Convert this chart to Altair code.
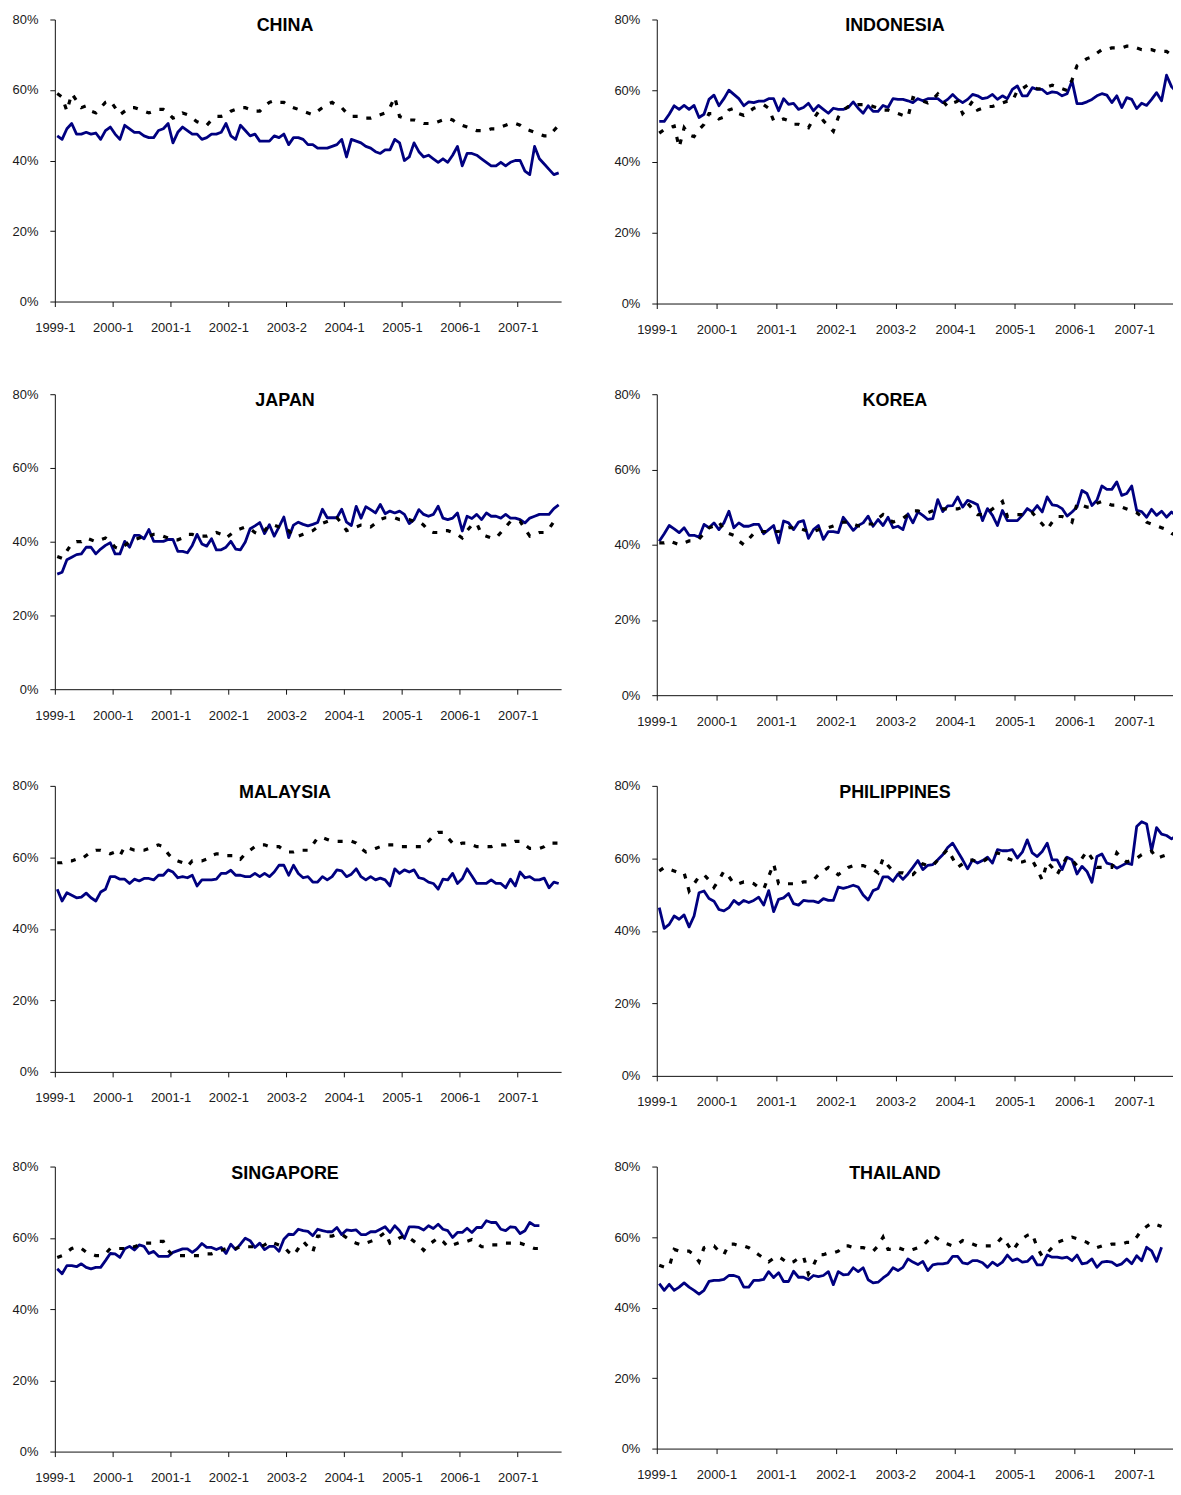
import altair as alt
import pandas as pd

TICK_LABELS = ["1999-1", "2000-1", "2001-1", "2002-1", "2003-2", "2004-1", "2005-1", "2006-1", "2007-1"]
Y_TICKS = [0, 20, 40, 60, 80]

china_solid = [47, 46, 49, 50.5, 47.5, 47.5, 48, 47.5, 47.8, 46,
               48.5, 49.5, 47.5, 46, 50, 49, 48, 48, 47, 46.5,
               46.5, 48.5, 49, 50.5, 45, 48, 49.5, 48.5, 47.5, 47.5,
               46, 46.5, 47.5, 47.5, 48, 50.5, 47, 46, 50, 48.5,
               47, 47.5, 45.5, 45.5, 45.5, 47, 46.5, 47.5, 44.5, 46.5,
               46.5, 46, 44.5, 44.5, 43.5, 43.5, 43.5, 44, 44.5, 46,
               41, 46, 45.5, 45, 44, 43.5, 42.5, 42, 43, 43,
               46, 45, 40, 41, 45, 42.5, 41, 41.5, 40.5, 39.5,
               40.5, 39.5, 41.5, 44, 38.5, 42, 42, 41.5, 40.5, 39.5,
               38.5, 38.5, 39.5, 38.5, 39.5, 40, 40, 37, 36, 44,
               40.5, 39, 37.5, 36, 36.5]
china_dotted = [59, 58, 54, 59, 57, 55, 55.5, 54, 53.5, 55,
                56.5, 57, 55, 53, 54, 55, 55, 54.5, 54, 53.5,
                54, 54.5, 54.5, 53.5, 52, 52.5, 53.5, 53, 52, 51,
                50.5, 50, 51.5, 52.5, 52.5, 53, 54, 54.5, 55, 55,
                54.5, 54, 54, 55.5, 56.5, 57, 56.5, 56.5, 55.5, 55,
                54.5, 54, 53.5, 53, 54, 55, 56, 56.5, 55.5, 55,
                53.5, 52.5, 52.5, 52.5, 52, 52, 52.5, 53, 53.5, 55,
                58, 52.5, 52, 51.5, 51.5, 51, 50.5, 50.5, 50.5, 51,
                51.5, 52, 51.5, 50.5, 50, 49.5, 49, 48.5, 48.5, 48.5,
                49, 49, 49.5, 50, 50.5, 50.5, 50, 49, 48.5, 48,
                47.5, 47, 47, 48.5, 50]

indonesia_solid = [51.3, 51.3, 53.3, 55.7, 54.7, 55.8, 54.7, 55.8, 52.4, 53.3,
                   57.5, 58.7, 55.7, 57.7, 60.1, 58.9, 57.7, 55.7, 56.8, 56.6,
                   57, 57, 57.7, 57.7, 54.3, 57.7, 56.1, 56.4, 54.7, 55.2,
                   56.4, 54.3, 55.8, 54.7, 53.6, 55, 54.7, 54.7, 55.2, 56.8,
                   55, 53.6, 55.7, 54.1, 54.1, 55.8, 55.2, 57.7, 57.5, 57.5,
                   57.1, 56.6, 57.7, 57.1, 57.7, 57.7, 57.7, 56.6, 57.5, 58.9,
                   57.5, 56.6, 57.5, 58.9, 58.5, 57.7, 58, 58.9, 57.5, 58.5,
                   57.7, 60.3, 61.3, 58.5, 58.5, 60.8, 60.3, 60.3, 59.1, 59.6,
                   59.4, 58.5, 59.1, 62.7, 56.3, 56.3, 56.8, 57.5, 58.5, 59.1,
                   58.7, 56.6, 58.5, 55.2, 58, 57.5, 54.9, 56.4, 55.8, 57.5,
                   59.4, 57.1, 64.3, 61.1, 59.6]
indonesia_dotted = [48, 49, 49.5, 50, 44, 49.5, 47.5, 47, 49, 50.5,
                    53.5, 53.5, 52, 52.5, 54.5, 55, 53.5, 53, 54, 55,
                    55.5, 56, 55, 51.5, 51.5, 52, 51.5, 50.5, 50.5, 50,
                    49.5, 52, 54, 51.5, 50, 48.5, 52.5, 54.5, 55.5, 55.5,
                    56, 56, 56, 55.5, 55, 54.5, 54.5, 54, 53.5, 53,
                    52.5, 58, 57.5, 57, 56.5, 57.5, 59, 57, 55.5, 56.5,
                    57, 53.5, 55, 57, 54.5, 55, 55.5, 55.5, 56, 56.5,
                    57, 57, 60, 60.5, 61.5, 61, 60.5, 60.5, 61, 61.5,
                    61, 60.5, 60, 63, 67, 68, 69, 69.5, 70.5, 71.5,
                    71.5, 72, 72, 72, 72.5, 72.5, 72, 71.5, 71.5, 71.5,
                    71, 71, 71, 70, 69.5]

japan_solid = [31.2, 31.7, 35.1, 35.8, 36.5, 36.7, 38.5, 38.5, 36.7, 38,
               39, 39.7, 36.7, 36.7, 40.1, 38.5, 41.7, 41.7, 40.8, 43.3,
               40.1, 40.1, 40.1, 40.6, 40.6, 37.4, 37.4, 37, 39, 42,
               39.4, 38.8, 40.8, 37.8, 37.8, 38.5, 40.1, 38, 37.8, 39.9,
               43.5, 44.3, 45.2, 42.2, 44.6, 41.5, 44, 46.7, 41.1, 44.5,
               45.3, 44.7, 44.3, 44.7, 45.2, 48.8, 46.5, 46.5, 46.5, 48.8,
               45.3, 44.4, 49.6, 46.4, 49.5, 48.7, 47.8, 50.1, 47.6, 48.3,
               47.8, 48.3, 47.4, 44.9, 46, 48.7, 47.4, 46.9, 47.4, 49.6,
               46.4, 46, 46.4, 47.8, 42.9, 46.9, 46.3, 47.4, 46, 47.8,
               46.9, 46.9, 46.4, 47.4, 46.4, 46.4, 46, 45.1, 46.4, 46.9,
               47.4, 47.4, 47.4, 49, 50]
japan_dotted = [36, 35.5, 37.5, 39.5, 40, 40, 41, 40.5, 40, 40.5,
                41, 40, 38.5, 38, 39, 40, 40.5, 41, 41.5, 41.5,
                42, 42, 41.5, 41, 40.5, 40.5, 41, 42, 42, 41.5,
                41.5, 41.5, 42, 42.5, 42, 41, 42, 43, 43.5, 44,
                43.5, 42.5, 42, 43, 44.5, 44.5, 44, 44, 43, 41.5,
                41.5, 42, 42.5, 43, 44, 45, 45.5, 46, 46.5, 45,
                43, 43.5, 44, 44.5, 44.5, 44, 45, 46, 46.5, 46.5,
                46.5, 46, 46, 46, 45.5, 45.5, 44.5, 43, 42.5, 42.5,
                43, 43, 42.5, 42, 41, 43, 44.5, 45, 42, 41.5,
                41, 41, 42.5, 44, 45.5, 45.5, 45.5, 43.5, 41.5, 42,
                42.5, 42.5, 43.5, 45.5, 44]

korea_solid = [40.9, 42.9, 45.1, 44.2, 43.2, 44.5, 42.5, 42.5, 42, 45.4,
               44.5, 45.8, 44, 45.8, 48.9, 44.5, 45.8, 44.9, 44.9, 45.4,
               45.4, 42.9, 44, 45.1, 40.5, 46.3, 45.8, 44, 46, 46.4,
               41.7, 44, 45.1, 41.4, 43.5, 43.5, 43.2, 47.3, 45.6, 43.8,
               45.1, 45.8, 47.6, 44.9, 46.7, 45.1, 47.3, 44.5, 44.9, 44,
               48.2, 45.8, 48.7, 47.8, 46.7, 46.9, 52, 48.8, 50.3, 50.4,
               52.7, 50, 51.8, 51.3, 50.6, 46.4, 49.6, 47.8, 45.1, 49.1,
               46.4, 46.4, 46.4, 47.8, 49.6, 48.7, 50.4, 48.7, 52.7, 50.6,
               50.4, 49.6, 47.6, 48.7, 50, 54.4, 53.6, 50.4, 51.8, 55.6,
               54.7, 54.7, 56.7, 53.1, 53.6, 55.6, 49.1, 48.8, 47.3, 49.4,
               47.8, 48.9, 47.3, 48.7, 47.6]
korea_dotted = [40.5, 40.5, 41, 40.5, 40, 40.5, 41, 41, 41.5, 43,
                44.5, 45, 46, 44, 43, 42.5, 41, 40, 41.5, 43,
                43.5, 43.5, 43.5, 43.5, 43.5, 44, 44.5, 44.5, 44.5, 44,
                43.5, 43.5, 44, 44.5, 44.5, 45, 45.5, 46, 46, 45.5,
                45, 45, 45.5, 45.5, 47, 48, 47, 46, 46.5, 47,
                48, 49, 49, 48.5, 48.5, 49, 49.5, 49.5, 49.5, 49.5,
                49.5, 50, 51, 49.5, 48, 48, 48.5, 49.5, 50.5, 51.5,
                47.5, 47.5, 48, 48, 48, 48.5, 47, 45.5, 44, 46,
                47.5, 47.5, 47, 46, 51, 50.5, 50, 50, 51, 51.5,
                51, 50.5, 50.5, 50, 49.5, 49, 48.5, 47.5, 46, 45.5,
                45, 44.5, 44, 43, 42.5]

malaysia_solid = [51.1, 47.8, 50.1, 49.4, 48.7, 48.9, 50, 48.7, 47.8, 50.3,
                  51.1, 54.6, 54.6, 53.9, 53.9, 52.7, 53.9, 53.4, 54.1, 54.1,
                  53.7, 55, 55, 56.5, 55.9, 54.3, 54.6, 54.3, 55, 52,
                  53.7, 53.7, 53.7, 53.9, 55.5, 55.5, 56.4, 55, 55, 54.6,
                  54.6, 55.5, 54.6, 55.5, 54.6, 55.9, 57.8, 57.8, 55, 57.8,
                  55.5, 54.3, 54.6, 53.1, 53.1, 54.6, 53.7, 54.6, 56.5, 56.2,
                  54.6, 55.3, 56.8, 54.6, 53.7, 54.6, 53.7, 54.2, 53.7, 52,
                  56.8, 55.5, 56.5, 55.9, 56.5, 54.3, 54, 53.1, 52.7, 51.1,
                  53.9, 53.7, 55.5, 52.7, 54, 56.8, 54.8, 52.7, 52.7, 52.7,
                  53.7, 52.7, 52.7, 51.5, 53.9, 52, 55.9, 54.3, 54.6, 53.7,
                  53.7, 54.2, 51.5, 53.1, 52.7]
malaysia_dotted = [58.5, 58.5, 59, 59, 59.5, 59.5, 60.5, 61.5, 62, 62,
                   61.5, 61, 61.5, 60.5, 63, 62.5, 62, 62, 62, 62.5,
                   63, 63.5, 63, 61, 59.5, 59, 58.5, 57.5, 59, 59,
                   59, 59.5, 60.5, 61, 61, 60.5, 60.5, 60.5, 59.5, 61,
                   62, 63, 63.5, 63.5, 63, 63, 63, 62, 61.5, 61.5,
                   62, 62, 62, 63.5, 65.5, 65.5, 65, 64.5, 64.5, 64.5,
                   64.5, 64.5, 64, 62.5, 61.5, 62, 62.5, 63, 63.5, 63.5,
                   63.5, 63, 63, 63, 63, 63, 63, 64.5, 66, 67,
                   67, 65.5, 64, 63.5, 64, 64, 63.5, 63, 63, 63,
                   63, 63.5, 63.5, 63.5, 64, 64.5, 64.5, 63.5, 62.5, 62.5,
                   62.5, 63, 64, 64, 64]

philippines_solid = [46.4, 40.7, 41.8, 44.1, 43.2, 44.4, 41.1, 44.1, 50.5, 51,
                     48.9, 48.2, 45.9, 45.5, 46.4, 48.4, 47.3, 48.4, 47.8, 48.4,
                     49.3, 47.1, 51.1, 45.3, 48.7, 49.1, 50.3, 47.5, 47.1, 48.4,
                     48.2, 48.2, 47.8, 48.9, 48.4, 48.4, 52.1, 51.7, 52.1, 52.6,
                     52.1, 49.9, 48.5, 51.1, 51.7, 54.9, 54.9, 53.7, 55.7, 54.2,
                     55.7, 57.5, 59.4, 56.9, 58.1, 58.3, 59.6, 61, 63, 64.2,
                     61.9, 59.6, 57.1, 59.6, 58.7, 59.4, 60.3, 58.7, 62.4, 62.1,
                     62.1, 62.4, 60.1, 61.7, 65.1, 61.5, 60.5, 61.9, 64.2, 59.6,
                     59.6, 56.9, 60.3, 59.6, 55.7, 57.8, 56.4, 53.4, 60.5, 61.2,
                     58.7, 58.3, 57.3, 58, 58.7, 58.3, 68.8, 70.1, 69.5, 62.1,
                     68.5, 66.7, 66.3, 65.4, 66.3]
philippines_dotted = [56.5, 57.5, 57, 56.5, 56, 56, 51, 53, 55, 55.5,
                      54, 52, 54, 56.5, 55, 53, 53, 53.5, 53.5, 53,
                      52, 51.5, 55, 58.5, 53, 53, 53, 53, 53, 53.5,
                      53.5, 54, 55.5, 56.5, 57.5, 56.5, 55.5, 56.5, 57.5, 58,
                      58, 58, 57.5, 57, 56, 60, 58, 56.5, 56, 56,
                      55.5, 55.5, 57, 58.5, 58, 58, 59.5, 61, 62.5, 60,
                      57.5, 58.5, 59.5, 59.5, 59, 59, 60, 61, 61.5, 61,
                      60, 59.5, 59, 59, 59.5, 59.5, 57, 54, 59, 57.5,
                      55.5, 58, 60.5, 59.5, 58, 60, 62, 60, 57.5, 57.5,
                      57.5, 57.5, 61.5, 60, 59, 59.5, 60, 61, 61.5, 62,
                      60, 60.5, 61, 61.5, 61.5]

singapore_solid = [51.3, 49.9, 52.2, 52.2, 51.9, 52.7, 51.7, 51.3, 51.7, 51.7,
                   53.6, 55.6, 55.5, 54.5, 56.9, 57.6, 56.6, 58, 57.6, 55.6,
                   56.2, 54.8, 54.8, 54.8, 55.9, 56.4, 56.9, 56.9, 55.9, 56.9,
                   58.4, 57.3, 57.3, 56.7, 57.3, 55.6, 58.2, 56.7, 58.2, 59.9,
                   59.2, 57.3, 58.5, 56.7, 57.6, 57.6, 56.2, 59.6, 61, 60.9,
                   62.4, 62, 61.8, 60.6, 62.4, 62, 61.7, 61.7, 62.9, 60.9,
                   62.2, 62, 62.2, 60.9, 60.9, 61.7, 61.7, 62.4, 63.1, 61.5,
                   63.4, 62, 59.8, 63.1, 63.1, 62.9, 62.2, 63.4, 62.6, 63.8,
                   62.4, 62, 60.1, 61.5, 61.5, 62.7, 61.5, 62.9, 62.9, 64.8,
                   64.3, 64.3, 62.4, 62, 63.1, 62.9, 61.2, 62, 64.3, 63.4,
                   63.4]
singapore_dotted = [54.5, 55, 56, 57, 57.5, 57, 56, 55.5, 55, 55,
                    55.5, 57, 57, 57, 57, 57.5, 57.5, 58, 58.5, 58.5,
                    58.5, 59, 59, 56.5, 55, 55, 55, 55, 55, 55,
                    55, 55.5, 55.5, 56, 56.5, 57, 57, 57, 57.5, 57.5,
                    57.5, 57.5, 57.5, 58, 59, 58.5, 58, 57.5, 56, 55,
                    57, 59, 57.5, 56, 60.5, 60.5, 60.5, 60.5, 61, 61,
                    60, 59, 58.5, 58, 58.5, 59, 59.5, 60.5, 61.5, 58.5,
                    59, 60, 60.5, 60, 59, 58, 56.5, 58, 59, 60,
                    59, 57.5, 58, 58.5, 59, 59, 59.5, 58.5, 57.5, 57.5,
                    58, 58, 58, 58.5, 58.5, 58.5, 58.5, 58, 57.5, 57,
                    57]

thailand_solid = [46.8, 44.9, 46.6, 44.9, 45.8, 47, 45.8, 44.9, 43.8, 44.9,
                  47.4, 47.7, 47.7, 48, 49.1, 49.1, 48.6, 45.8, 45.8, 47.7,
                  47.7, 48, 50.2, 48.5, 49.9, 47.4, 47.4, 50.3, 48.6, 48.6,
                  47.9, 49.1, 48.8, 49.1, 50.2, 46.5, 50.2, 49.3, 49.4, 51.3,
                  50.2, 51.3, 47.9, 47, 47.2, 48.4, 49.4, 51.3, 50.5, 51.4,
                  53.8, 52.9, 52.2, 53.1, 50.5, 52.1, 52.4, 52.4, 52.7, 54.5,
                  54.5, 52.7, 52.4, 53.3, 53.3, 52.7, 51.4, 52.9, 51.9, 52.9,
                  54.9, 53.3, 53.8, 52.9, 53.1, 54.5, 52.1, 52.1, 54.9, 54.3,
                  54.3, 54, 54.3, 53.3, 54.9, 52.4, 52.7, 53.8, 51.4, 52.9,
                  53.1, 52.9, 51.9, 52.4, 53.8, 52.4, 54.7, 53.3, 57.1, 56.1,
                  53.1, 57.1]
thailand_dotted = [52, 51.5, 51.5, 56.5, 56, 56, 56, 55, 53, 57,
                   57.5, 57.5, 56, 55, 58, 58, 57.5, 57.5, 57, 56,
                   55, 54, 53, 54, 54.5, 53.5, 52.5, 53, 54, 54.5,
                   49.5, 52, 55, 55, 55.5, 55.5, 56, 57.5, 57.5, 57,
                   57, 57, 56.5, 56, 57.5, 60, 56.5, 56.5, 57, 56.5,
                   56, 56.5, 57, 57.5, 59, 60.5, 59.5, 58.5, 58, 57.5,
                   58, 59, 58.5, 58, 57.5, 57.5, 57.5, 57.5, 58.5, 60,
                   58, 56, 58, 59.5, 60.5, 61, 57, 54.5, 55.5, 57,
                   58.5, 59, 59.5, 60, 59.5, 59, 58.5, 57.5, 57, 57.5,
                   57.5, 58, 58, 58, 58.5, 58.5, 60, 62, 63, 64,
                   63.5, 63]

# name, solid, dotted, side, plot height
PANELS = [
    ("CHINA", china_solid, china_dotted, "L", 283),
    ("INDONESIA", indonesia_solid, indonesia_dotted, "R", 285),
    ("JAPAN", japan_solid, japan_dotted, "L", 296),
    ("KOREA", korea_solid, korea_dotted, "R", 302),
    ("MALAYSIA", malaysia_solid, malaysia_dotted, "L", 287),
    ("PHILIPPINES", philippines_solid, philippines_dotted, "R", 291),
    ("SINGAPORE", singapore_solid, singapore_dotted, "L", 286),
    ("THAILAND", thailand_solid, thailand_dotted, "R", 283),
]

FONT = "Liberation Sans"
label_array = "[" + ",".join("'" + t + "'" for t in TICK_LABELS) + "]"
x_label_expr = label_array + "[round((datum.value + 0.5) / 12)]"
x_tick_values = [12 * k - 0.5 for k in range(len(TICK_LABELS))]

SIDE = {
    # width, x-domain max, title centre
    "L": (508, 104.5, 231),
    "R": (518, 103.3, 239),
}


def panel(name, solid, dotted, side, h):
    w, xmax, tx = SIDE[side]
    df_s = pd.DataFrame({"i": list(range(len(solid))), "v": solid})
    df_d = pd.DataFrame({"i": list(range(len(dotted))), "v": dotted})
    x = alt.X("i:Q",
              scale=alt.Scale(domain=[-0.5, xmax], nice=False, zero=False),
              axis=alt.Axis(values=x_tick_values, labelExpr=x_label_expr, title=None,
                            grid=False, labelPadding=15, labelFlush=False,
                            labelOverlap=False))
    y = alt.Y("v:Q",
              scale=alt.Scale(domain=[0, 80], nice=False),
              axis=alt.Axis(values=Y_TICKS, labelExpr="datum.value + '%'", title=None,
                            grid=False, labelPadding=12))
    solid_line = alt.Chart(df_s).mark_line(color="#000080", strokeWidth=2.8, clip=True,
                                           strokeJoin="round").encode(x=x, y=y)
    dotted_line = alt.Chart(df_d).mark_line(color="#000000", strokeWidth=3.2, clip=True,
                                            strokeDash=[5, 9]).encode(x=x, y=y)
    title = alt.Chart(pd.DataFrame({"t": [name]})).mark_text(
        font=FONT, fontSize=18, fontWeight="bold", color="#000000",
        align="center", baseline="alphabetic"
    ).encode(text="t:N", x=alt.value(tx), y=alt.value(12))
    return alt.layer(solid_line, dotted_line, title).properties(width=w, height=h)


charts = [panel(*p) for p in PANELS]
rows = [alt.hconcat(charts[k], charts[k + 1], spacing=52) for k in range(0, 8, 2)]
chart = alt.vconcat(*rows, spacing=52).properties(
    padding={"left": 3, "top": 3, "right": 0, "bottom": 0}
).configure_view(stroke=None).configure_axis(
    domainColor="#111111", tickColor="#111111", tickSize=5,
    labelFont=FONT, labelFontSize=13, labelColor="#1a1a1a"
)

chart.save("out.html", embed_options={"renderer": "svg", "actions": False})
